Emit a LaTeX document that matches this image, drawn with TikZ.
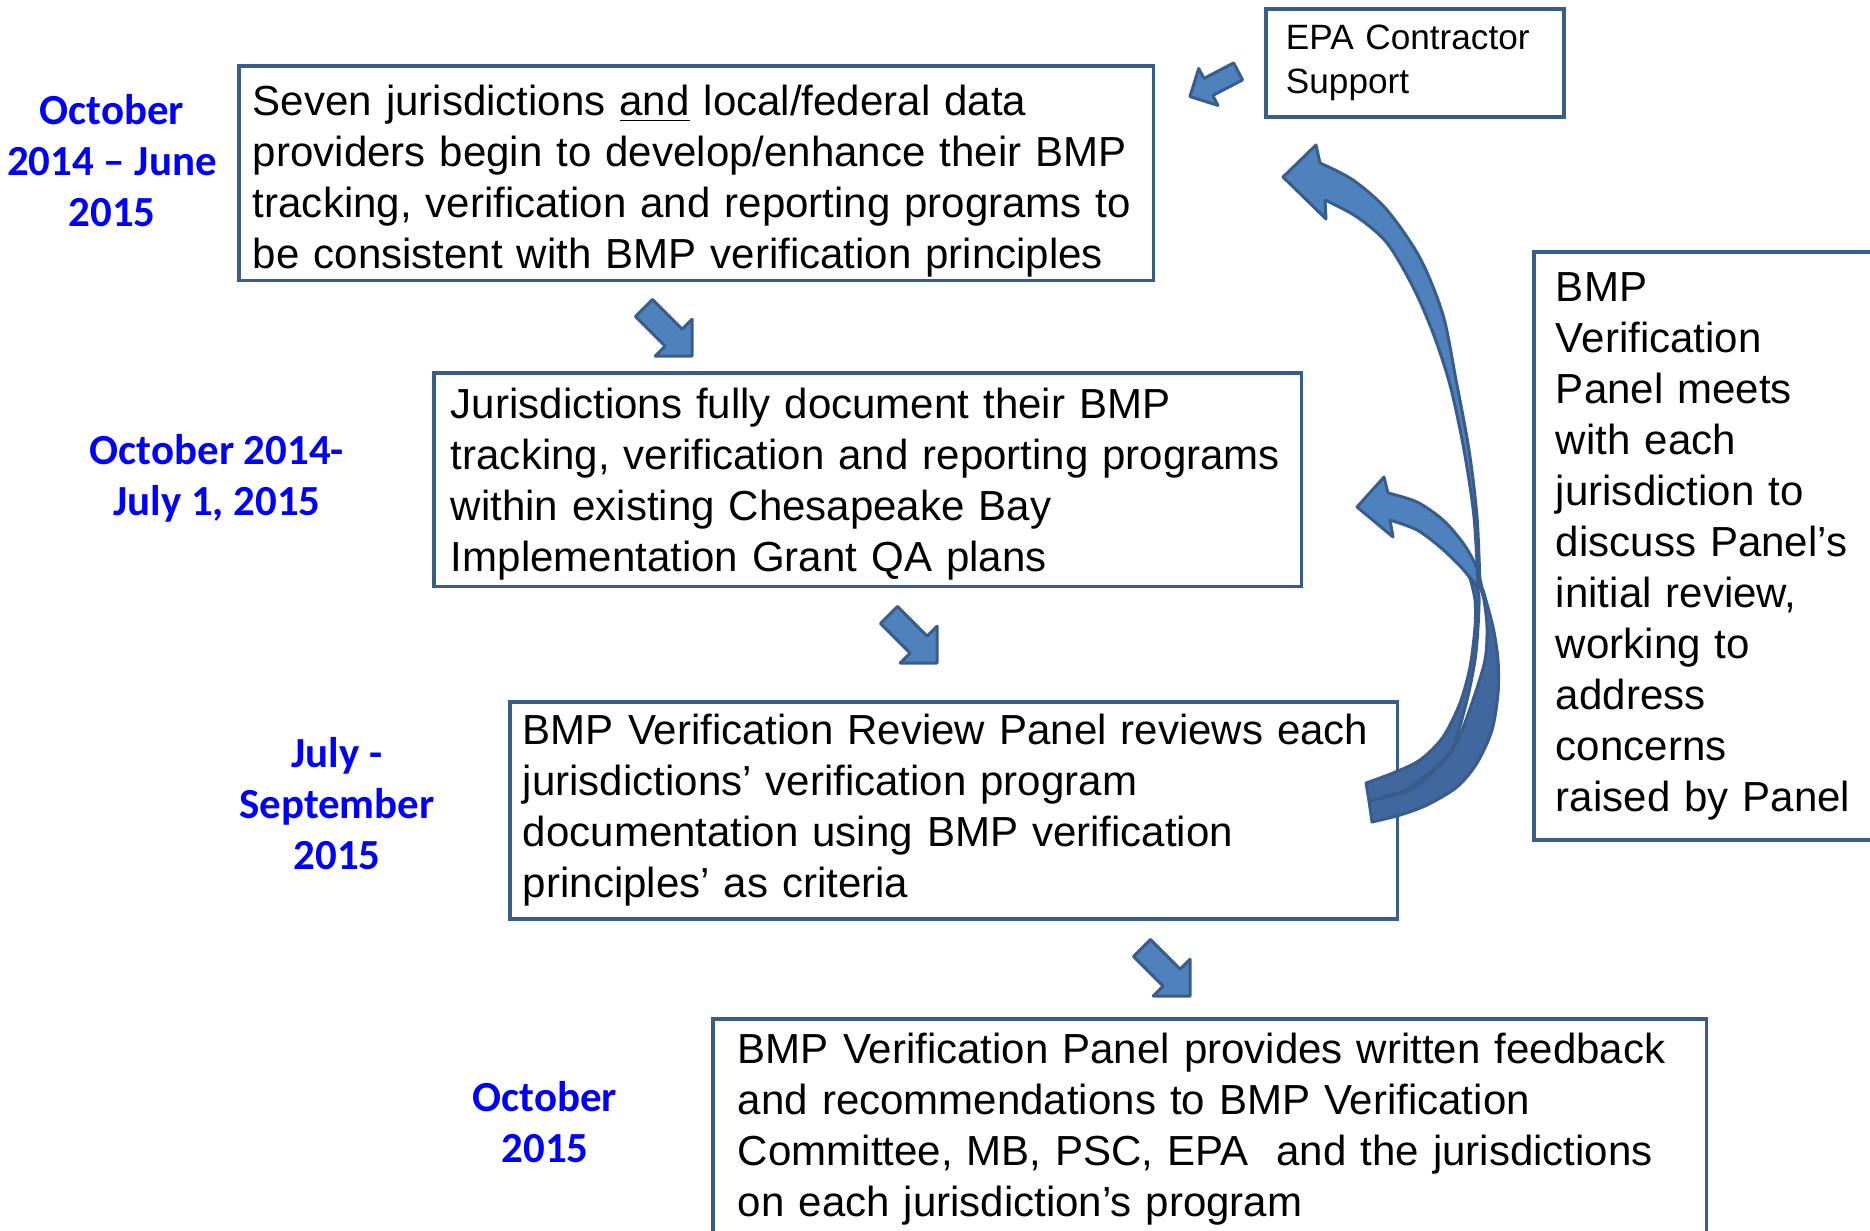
\documentclass[tikz,border=0pt]{standalone}
\usepackage{fontspec}
\setmainfont{Liberation Sans}
\newfontfamily\datefont{Carlito}

\definecolor{boxline}{HTML}{385D8A}
\definecolor{arrowfill}{HTML}{4F81BD}
\definecolor{arrowback}{RGB}{64,104,158}

\tikzset{
  panel/.style={draw=boxline, line width=1.1pt, rectangle, anchor=north west,
    align=left, inner ysep=0pt, font=\fontsize{11.95}{14.5}\selectfont},
  datelabel/.style={text=blue, align=center,
    font=\datefont\bfseries\fontsize{12.2}{14.5}\selectfont},
  stepshape/.style={fill=arrowfill, draw=boxline, line width=0.85pt, line join=round},
  backshape/.style={fill=arrowback, draw=boxline, line width=0.85pt, line join=round},
  blockarrow/.pic={
    \filldraw[stepshape] (-34,-12) -- (8,-12) -- (8,-26) -- (34,0) -- (8,26) -- (8,12) -- (-34,12) -- cycle;
  }
}

\begin{document}
\begin{tikzpicture}[x=0.01cm, y=-0.01cm]
    \useasboundingbox (0,0) rectangle (1870,1230);
    \clip (0,0) rectangle (1870,1230);

    % Fechas
    \node[datelabel] (d1) at (112,161) {October\\2014 – June\\2015};
    \node[datelabel] (d2) at (217,478) {October 2014-\\July 1, 2015};
    \node[datelabel] (d3) at (337,804) {July -\\September\\2015};
    \node[datelabel] (d4) at (545,1122) {October\\2015};

    % Cajas
    \node[panel, text width=8.86cm, inner xsep=0.14cm, inner ysep=0.19cm, text depth=1.46cm] (develop) at (237,64)
      {Seven jurisdictions \underline{and} local/federal data\\
       providers begin to develop/enhance their BMP\\
       tracking, verification and reporting programs to\\
       be consistent with BMP verification principles};
    \node[panel, text width=8.33cm, inner xsep=0.17cm, inner ysep=0.15cm, text depth=1.53cm] (document) at (432,371)
      {Jurisdictions fully document their BMP\\
       tracking, verification and reporting programs\\
       within existing Chesapeake Bay\\
       Implementation Grant QA plans};
    \node[panel, minimum height=2.17cm, text width=8.61cm, inner xsep=0.13cm] (review) at (508,700)
      {BMP Verification Review Panel reviews each\\
       jurisdictions’ verification program\\
       documentation using BMP verification\\
       principles’ as criteria};
    \node[panel, text width=9.43cm, inner xsep=0.25cm, inner ysep=0.14cm, text depth=2.2cm] (feedback) at (711,1017)
      {BMP Verification Panel provides written feedback\\
       and recommendations to BMP Verification\\
       Committee, MB, PSC, EPA~ and the jurisdictions\\
       on each jurisdiction’s program};
    \node[panel, minimum height=1.08cm, text width=2.58cm, inner xsep=0.20cm,
      font=\fontsize{10}{12.5}\selectfont] (contractor) at (1264,7)
      {EPA Contractor\\Support};
    \node[panel, minimum height=5.88cm, text width=3.56cm, inner xsep=0.22cm] (meets) at (1532,250)
      {BMP\\Verification\\Panel meets\\with each\\jurisdiction to\\discuss Panel’s\\
       initial review,\\working to\\address\\concerns\\raised by Panel};

    % Flechas de paso
    \pic[rotate=-45] at (668,332) {blockarrow};
    \pic[rotate=-45] at (913,639) {blockarrow};
    \pic[rotate=-45] at (1166,972) {blockarrow};
    \pic[rotate=207.5, scale=0.8] at (1214,84) {blockarrow};

    % Flechas curvas (cara trasera)
    \filldraw[backshape] (1470,578)
      -- plot[smooth] coordinates {(1470,578) (1475,600) (1475,627) (1470,667) (1460,703) (1443,737) (1420,760) (1393,773) (1366,783)}
      -- (1369,801)
      -- plot[smooth] coordinates {(1369,801) (1405,790) (1435,768) (1453,747) (1467,700) (1475,660) (1478,627) (1479,597) (1476,585)}
      -- cycle;
    \filldraw[backshape] (1483,590)
      -- plot[smooth] coordinates {(1483,590) (1493,627) (1498,660) (1498,693) (1492,730) (1477,763) (1457,787) (1427,805) (1400,815) (1372,822)}
      -- (1369,801)
      -- plot[smooth] coordinates {(1369,801) (1410,790) (1440,765) (1457,742) (1473,700) (1485,660) (1487,627) (1484,600) (1481,590)}
      -- cycle;

    % Flechas curvas (cara frontal)
    \filldraw[stepshape] (1357,507) -- (1384,477) -- (1388,493)
      -- plot[smooth] coordinates {(1388,493) (1417,502) (1443,520) (1463,543) (1476,566) (1483,592)}
      -- plot[smooth] coordinates {(1470,578) (1460,566) (1440,547) (1417,530) (1390,520)}
      -- (1393,537) -- cycle;
    \filldraw[stepshape] (1283,177) -- (1316,145) -- (1320,163)
      -- plot[smooth] coordinates {(1320,163) (1353,180) (1387,210) (1420,258) (1443,315) (1456,380) (1469,450) (1477,517) (1480,585)}
      -- plot[smooth] coordinates {(1478,585) (1474,517) (1464,450) (1450,385) (1433,333) (1413,287) (1387,243) (1357,217) (1325,200)}
      -- (1326,219) -- cycle;
\end{tikzpicture}
\end{document}
